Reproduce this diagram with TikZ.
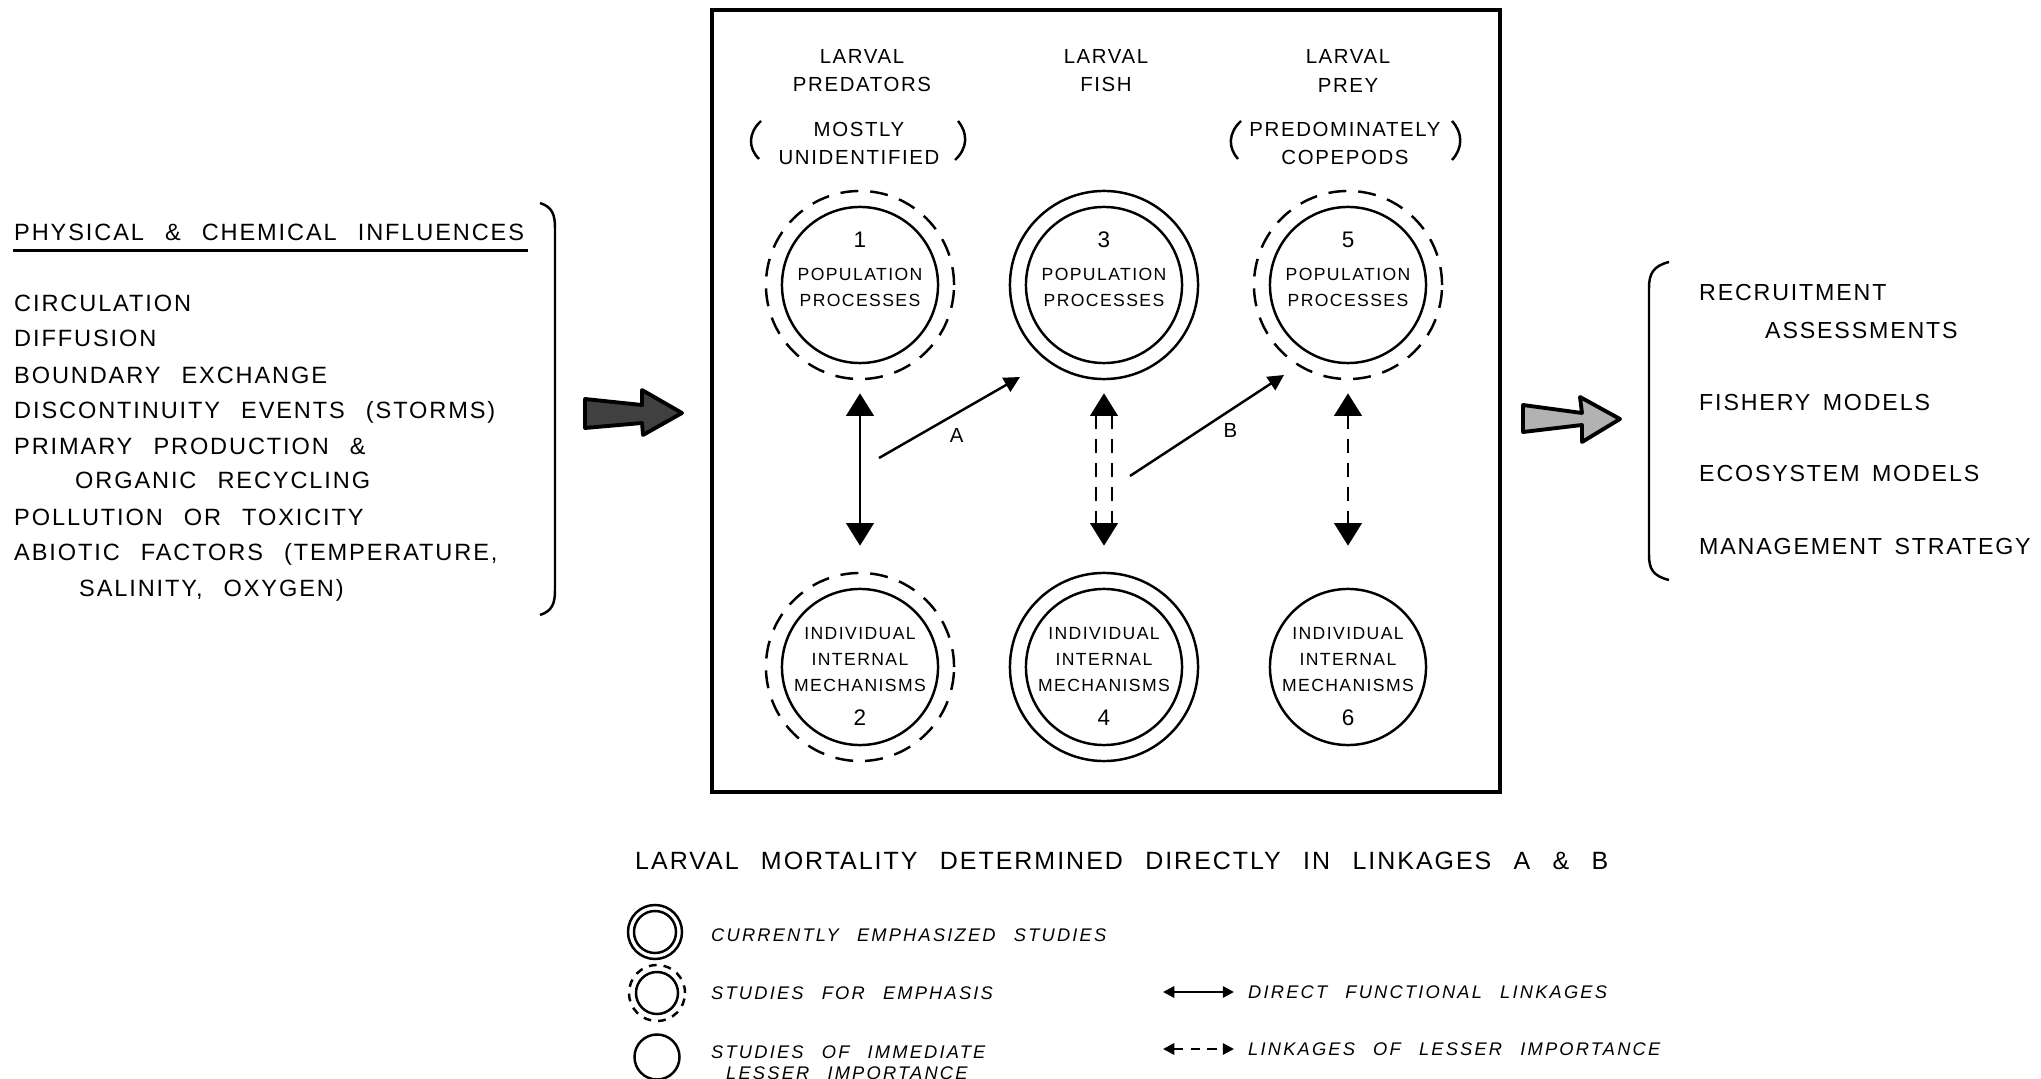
\documentclass[tikz,border=0pt]{standalone}
\usepackage{fontspec}
\setmainfont{Liberation Sans}
\newfontfamily\lettfont[LetterSpace=8,WordSpace=2.5,ItalicFeatures={LetterSpace=12}]{Liberation Sans}
\newfontfamily\lettnarrow[LetterSpace=7.9,WordSpace=1.5]{Liberation Sans}
\usetikzlibrary{positioning,arrows.meta,calc}

\tikzset{
  listtext/.style={anchor=base west, inner sep=0pt, font=\lettfont\fontsize{6.7}{8}\selectfont},
  outtext/.style={anchor=base west, inner sep=0pt, font=\lettnarrow\fontsize{6.6}{8}\selectfont},
  headtext/.style={align=center, inner sep=0pt, font=\lettfont\fontsize{5.8}{7.97}\selectfont},
  circtext/.style={align=center, inner sep=0pt, font=\lettfont\fontsize{5.0}{7.4}\selectfont},
  circnum/.style={inner sep=0pt, font=\lettfont\fontsize{6.4}{7}\selectfont},
  keytext/.style={anchor=base west, inner sep=0pt, font=\lettfont\itshape\fontsize{5.2}{6.1}\selectfont},
  titletext/.style={anchor=base west, inner sep=0pt, font=\lettfont\fontsize{7.1}{8}\selectfont},
  linklabel/.style={inner sep=0pt, font=\lettfont\fontsize{5.8}{7}\selectfont},
  studycirc/.style={circle, draw, minimum size=1.56cm, inner sep=0pt},
  dashring/.style={dash pattern=on 5.1pt off 3.4pt},
  vhead/.style={-{Triangle[width=7.8pt,length=6.4pt]}},
  fulllink/.style={{Triangle[width=7.8pt,length=6.4pt]}-{Triangle[width=7.8pt,length=6.4pt]}},
  lesslink/.style={fulllink, dash pattern=on 4pt off 2.8pt},
  fishlink/.style={-{Triangle[width=4.5pt,length=4.5pt]}},
  keylink/.style={{Triangle[width=3.2pt,length=3.2pt]}-{Triangle[width=3.2pt,length=3.2pt]}},
  fatarrow/.style={line width=1.1pt, line join=round}
}

\begin{document}
\begin{tikzpicture}[x=0.01cm, y=-0.01cm, line width=0.7pt]
\useasboundingbox (0,0) rectangle (2041,1079);

% influences on the left
\node[listtext] (ttl) at (13,240.4) {PHYSICAL \& CHEMICAL INFLUENCES};
\draw ($(ttl.base west)+(0,10)$) -- ($(ttl.base east)+(3,10)$);
\node[listtext] (i1) at (13,311.4) {CIRCULATION};
\node[listtext] (i2) at (13,346.4) {DIFFUSION};
\node[listtext] (i3) at (13,383.4) {BOUNDARY EXCHANGE};
\node[listtext] (i4) at (13,418.4) {DISCONTINUITY EVENTS (STORMS)};
\node[listtext] (i5) at (13,454.4) {PRIMARY PRODUCTION \&};
\node[listtext] (i6) at (74,488.4) {ORGANIC RECYCLING};
\node[listtext] (i7) at (13,525.4) {POLLUTION OR TOXICITY};
\node[listtext] (i8) at (13,560.4) {ABIOTIC FACTORS (TEMPERATURE,};
\node[listtext] (i9) at (78,596.4) {SALINITY, OXYGEN)};
\draw (540,203) .. controls (552,207) and (555,214) .. (555,228) -- (555,590)
  .. controls (555,604) and (552,611) .. (540,615);

% broad arrows
\draw[fatarrow, fill=black!75] (585,399) -- (642,405) -- (642,390) -- (682,413)
  -- (643,435) -- (642,423) -- (585,428) -- cycle;
\draw[fatarrow, fill=black!30] (1523,405) -- (1582,413) -- (1580,397) -- (1620,419)
  -- (1582,442) -- (1582,425) -- (1523,432) -- cycle;

% central box
\draw[line width=0.9pt] (712,10) rectangle (1500,792);

% column headings
\node[headtext] (h1) at (862,71) {LARVAL\\PREDATORS};
\node[headtext] (h3) at (1106,71) {LARVAL\\FISH};
\node[headtext] (h5) at (1348,71) {LARVAL\\PREY};
\node[headtext] (m1) at (859,143) {MOSTLY\\UNIDENTIFIED};
\node[headtext] (m5) at (1345,143) {PREDOMINATELY\\COPEPODS};
\draw (761,121) .. controls (748,133) and (748,148) .. (759,159);
\draw (958,121) .. controls (968,133) and (968,148) .. (955,160);
\draw (1241,121) .. controls (1228,133) and (1228,148) .. (1238,159);
\draw (1452,121) .. controls (1463,133) and (1463,148) .. (1452,160);

% study circles
\node[studycirc] (p1) at (860,285) {};
\node[studycirc] (p3) at (1104,285) {};
\node[studycirc] (p5) at (1348,285) {};
\node[studycirc] (p2) at (860,667) {};
\node[studycirc] (p4) at (1104,667) {};
\node[studycirc] (p6) at (1348,667) {};
\foreach \c in {p1,p2,p5}
  \draw[dashring] (\c.center) circle[radius=0.94cm];
\foreach \c in {p3,p4}
  \draw (\c.center) circle[radius=0.94cm];

\node[circnum] (n1) at (860,240) {1};
\node[circnum] (n3) at (1104,240) {3};
\node[circnum] (n5) at (1348,240) {5};
\node[circtext] (t1) at (860,287) {POPULATION\\PROCESSES};
\node[circtext] (t3) at (1104,287) {POPULATION\\PROCESSES};
\node[circtext] (t5) at (1348,287) {POPULATION\\PROCESSES};
\node[circtext] (t2) at (860,660) {INDIVIDUAL\\INTERNAL\\MECHANISMS};
\node[circtext] (t4) at (1104,660) {INDIVIDUAL\\INTERNAL\\MECHANISMS};
\node[circtext] (t6) at (1348,660) {INDIVIDUAL\\INTERNAL\\MECHANISMS};
\node[circnum] (n2) at (860,718) {2};
\node[circnum] (n4) at (1104,718) {4};
\node[circnum] (n6) at (1348,718) {6};

% linkages
\draw[fulllink, shorten <=0.29cm, shorten >=0.42cm] (p1) -- (p2);
\draw[lesslink, shorten <=0.29cm, shorten >=0.42cm] (p5) -- (p6);
\draw[dash pattern=on 4pt off 2.8pt] ($(p3.south)+(-8,51)$) -- ($(p4.north)+(-8,-64)$);
\draw[dash pattern=on 4pt off 2.8pt] ($(p3.south)+(8,51)$) -- ($(p4.north)+(8,-64)$);
\draw[vhead] ($(p3.south)+(0,52)$) -- ($(p3.south)+(0,29)$);
\draw[vhead] ($(p4.north)+(0,-65)$) -- ($(p4.north)+(0,-42)$);
\draw[fishlink] ($(p1.center)+(19,173)$) -- node[linklabel, pos=.55, below=4pt] (la) {A}
  ($(p3.center)+(-84,92)$);
\draw[fishlink] ($(p3.center)+(26,191)$) -- node[linklabel, pos=.6, below right=2pt and 0pt] (lb) {B}
  ($(p5.center)+(-64,90)$);

% outcomes on the right
\draw (1669,262) .. controls (1653,266) and (1649,274) .. (1649,288) -- (1649,555)
  .. controls (1649,569) and (1653,576) .. (1669,580);
\node[outtext] (o1) at (1698,300.5) {RECRUITMENT};
\node[outtext] (o2) at (1764,338.5) {ASSESSMENTS};
\node[outtext] (o3) at (1698,410.5) {FISHERY MODELS};
\node[outtext] (o4) at (1698,481.5) {ECOSYSTEM MODELS};
\node[outtext] (o5) at (1698,554.5) {MANAGEMENT STRATEGY};

% legend
\node[titletext] (mort) at (634,869) {LARVAL MORTALITY DETERMINED DIRECTLY IN LINKAGES A \& B};
\node[studycirc, minimum size=0.42cm] (k1) at (655,932) {};
\draw (k1.center) circle[radius=0.27cm];
\node[studycirc, minimum size=0.42cm] (k2) at (657,993) {};
\draw[dash pattern=on 2.2pt off 2pt] (k2.center) circle[radius=0.28cm];
\node[studycirc, minimum size=0.45cm] (k3) at (657,1057) {};
\node[keytext] (kt1) at (710,941.5) {CURRENTLY EMPHASIZED STUDIES};
\node[keytext] (kt2) at (710,999.5) {STUDIES FOR EMPHASIS};
\node[keytext] (kt3) at (710,1058.5) {STUDIES OF IMMEDIATE};
\node[keytext] (kt4) at (725,1079) {LESSER IMPORTANCE};
\coordinate (d1) at (1163,992);
\coordinate (d2) at (1234,992);
\draw[keylink] (d1) -- (d2);
\coordinate (e1) at (1163,1049);
\coordinate (e2) at (1234,1049);
\draw[keylink, dash pattern=on 2.6pt off 2.2pt] (e1) -- (e2);
\node[keytext] (kt5) at (1247,998.5) {DIRECT FUNCTIONAL LINKAGES};
\node[keytext] (kt6) at (1247,1055.5) {LINKAGES OF LESSER IMPORTANCE};
\end{tikzpicture}
\end{document}
